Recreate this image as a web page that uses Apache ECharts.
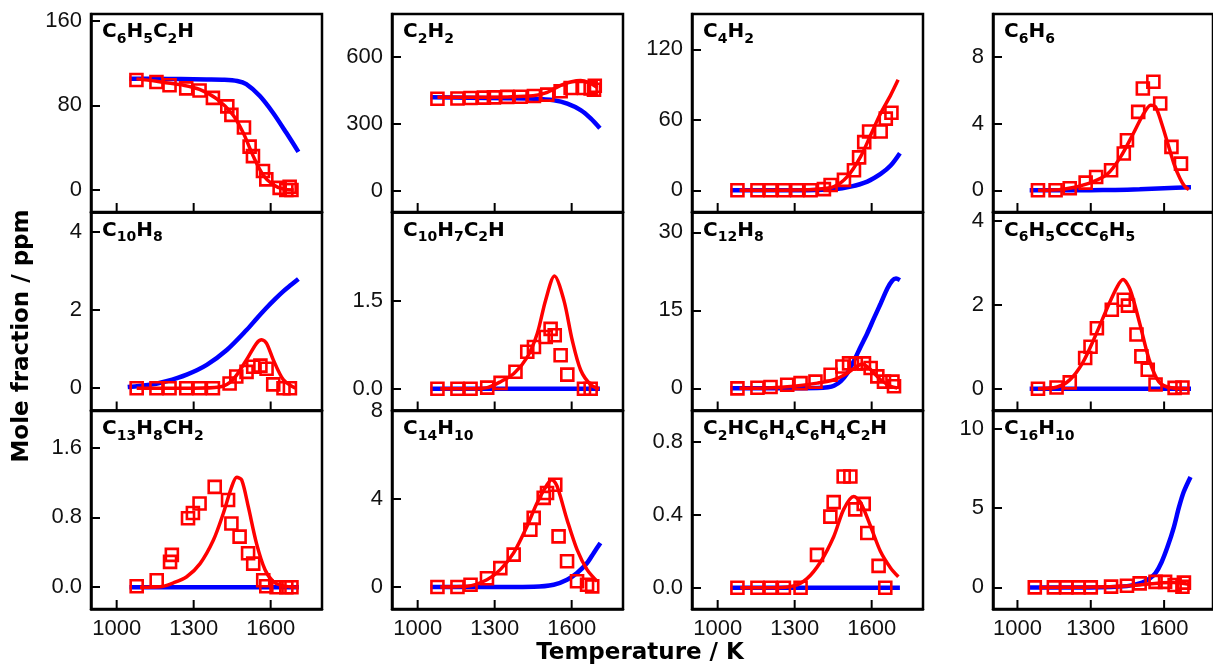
<!DOCTYPE html>
<html><head><meta charset="utf-8">
<script src="https://cdn.jsdelivr.net/npm/echarts@6/dist/echarts.min.js"></script>
<style>html,body{margin:0;padding:0;background:#fff}#c{width:1213px;height:667px}</style>
</head><body><div id="c"></div>
<script>
// ---------- data ----------
const panelNames = ['C6H5C2H','C2H2','C4H2','C6H6','C10H8','C10H7C2H','C12H8','C6H5CCC6H5','C13H8CH2','C14H10','C2HC6H4C6H4C2H','C16H10'];
const xTicks = [1000, 1300, 1600];
const xTickLabels = ['1000', '1300', '1600'];
const yTicks = [[0,80,160],[0,300,600],[0,60,120],[0,4,8],[0,2,4],[0,1.5],[0,15,30],[0,2,4],[0,0.8,1.6],[0,4,8],[0,0.4,0.8],[0,5,10]];
const yTickLabels = [['0','80','160'],['0','300','600'],['0','60','120'],['0','4','8'],['0','2','4'],['0.0','1.5'],['0','15','30'],['0','2','4'],['0.0','0.8','1.6'],['0','4','8'],['0.0','0.4','0.8'],['0','5','10']];
const yMin = [-20.8, -95, -18.5, -1.3, -0.57, -0.37, -4.26, -0.52, -0.25, -1, -0.117, -1.36];
const yMax = [166.3, 791, 150, 10.56, 4.5, 3.0, 33.8, 4.2, 2.02, 8, 0.97, 11.1];

// C6H5C2H
const exp_C6H5C2H = [[1077,104],[1155,102],[1206,99],[1271,96],[1323,94],[1375,87],[1431,79],[1447,71],[1496,59],[1518,41],[1531,32],[1570,18],[1583,10],[1635,2],[1661,0],[1674,3],[1681,0]];
const fit_C6H5C2H = [[1077,105],[1150,103],[1200,101],[1260,99],[1323,95],[1390,86],[1453,71],[1493,54],[1532,32],[1571,14],[1610,5],[1648,1],[1690,0]];
const model_C6H5C2H = [[1050,105],[1150,105],[1250,104.8],[1350,104.5],[1420,104.2],[1470,103],[1505,100],[1557,89],[1609,73],[1661,54],[1708,36]];
// C2H2
const exp_C2H2 = [[1077,412],[1155,413],[1206,415],[1258,417],[1297,418],[1349,420],[1401,421],[1453,424],[1505,430],[1557,445],[1596,460],[1648,460],[1674,458],[1687,452],[1690,470]];
const fit_C2H2 = [[1077,418],[1200,418],[1350,420],[1450,425],[1505,440],[1557,472],[1600,488],[1635,493],[1665,485],[1700,462]];
const model_C2H2 = [[1050,418],[1200,416],[1350,414],[1453,412],[1531,405],[1583,390],[1635,361],[1674,324],[1710,280]];
// C4H2
const exp_C4H2 = [[1077,0],[1155,0],[1206,0],[1258,0],[1310,0],[1362,0],[1414,1],[1440,4.5],[1492,8.8],[1531,17],[1551,28],[1571,41],[1590,50],[1635,50],[1655,61],[1677,66]];
const fit_C4H2 = [[1085,0],[1200,0],[1300,0.2],[1388,0.9],[1453,3.1],[1505,11.6],[1557,28.7],[1596,47],[1635,65.5],[1674,81],[1703,94]];
const model_C4H2 = [[1050,0],[1200,0],[1350,0.1],[1453,0.9],[1518,3.1],[1583,7.4],[1635,13.9],[1674,21],[1710,31.5]];
// C6H6
const exp_C6H6 = [[1084,0],[1156,0],[1214,0.12],[1279,0.46],[1322,0.8],[1383,1.2],[1435,2.2],[1448,3.0],[1494,4.7],[1513,6.1],[1556,6.5],[1584,5.2],[1630,2.6],[1669,1.6]];
const fit_C6H6 = [[1084,0],[1188,0.06],[1292,0.42],[1370,1.0],[1422,2.0],[1474,3.4],[1513,4.5],[1545,5.1],[1565,5.0],[1590,4.0],[1615,2.8],[1640,1.6],[1665,0.7],[1685,0.22],[1701,0.05]];
const model_C6H6 = [[1050,0],[1300,0.01],[1400,0.02],[1500,0.06],[1600,0.12],[1710,0.18]];
// C10H8
const exp_C10H8 = [[1078,0],[1155,0],[1206,0],[1271,0],[1323,0],[1375,0],[1440,0.12],[1466,0.3],[1506,0.42],[1532,0.55],[1560,0.58],[1584,0.5],[1610,0.1],[1650,0],[1675,0]];
const fit_C10H8 = [[1078,0],[1300,0],[1400,0.03],[1453,0.22],[1506,0.73],[1545,1.15],[1565,1.24],[1584,1.15],[1610,0.73],[1649,0.22],[1688,0.03],[1700,0]];
const model_C10H8 = [[1043,0.03],[1129,0.09],[1194,0.18],[1273,0.35],[1351,0.6],[1429,0.98],[1506,1.49],[1545,1.78],[1584,2.06],[1620,2.3],[1649,2.48],[1680,2.65],[1708,2.8]];
// C10H7C2H
const exp_C10H7C2H = [[1077,0],[1155,0],[1206,0],[1271,0.02],[1323,0.1],[1381,0.29],[1427,0.63],[1453,0.71],[1499,0.88],[1518,1.02],[1534,0.91],[1557,0.57],[1583,0.24],[1648,0],[1674,0]];
const fit_C10H7C2H = [[1088,0],[1200,0],[1271,0.02],[1323,0.12],[1375,0.26],[1427,0.54],[1466,0.94],[1498,1.5],[1533,1.92],[1570,1.5],[1602,0.83],[1635,0.32],[1674,0.07],[1707,0]];
const model_C10H7C2H = [[1050,0],[1300,0],[1500,0],[1710,0]];
// C12H8
const exp_C12H8 = [[1077,0],[1155,0.1],[1206,0.25],[1271,0.7],[1323,1.0],[1381,1.3],[1440,2.6],[1486,4.2],[1512,4.8],[1538,4.8],[1570,4.8],[1596,3.9],[1622,2.3],[1648,1.3],[1681,1.3],[1687,0.4]];
const fit_C12H8 = [[1085,0],[1194,0.06],[1297,0.4],[1388,1.0],[1453,1.65],[1505,2.9],[1544,4.3],[1564,4.7],[1596,3.6],[1635,1.65],[1674,0.4],[1700,0.06]];
const model_C12H8 = [[1050,0],[1250,0],[1388,0.05],[1430,0.2],[1453,0.5],[1480,1.4],[1505,2.9],[1530,5.2],[1557,8],[1583,10.6],[1609,13.5],[1635,16.3],[1661,19.2],[1680,20.7],[1695,21.1],[1710,20.8]];
// C6H5CCC6H5
const exp_C6H5CCC6H5 = [[1084,0],[1160,0.03],[1214,0.15],[1277,0.73],[1299,1.0],[1325,1.44],[1386,1.88],[1435,2.12],[1452,1.98],[1487,1.29],[1507,0.77],[1533,0.45],[1565,0.1],[1643,0.02],[1675,0.03]];
const fit_C6H5CCC6H5 = [[1084,0],[1162,0.04],[1214,0.21],[1266,0.61],[1318,1.25],[1370,1.96],[1409,2.44],[1432,2.6],[1461,2.36],[1500,1.56],[1539,0.69],[1578,0.17],[1630,0.02],[1700,0]];
const model_C6H5CCC6H5 = [[1050,0],[1300,0],[1500,0],[1710,0]];
// C13H8CH2
const exp_C13H8CH2 = [[1078,0.01],[1156,0.08],[1208,0.29],[1215,0.37],[1278,0.79],[1297,0.85],[1323,0.96],[1382,1.15],[1434,1.0],[1447,0.73],[1479,0.58],[1512,0.39],[1532,0.27],[1571,0.08],[1583,0.01],[1623,0],[1661,0],[1681,0]];
const fit_C13H8CH2 = [[1091,0],[1169,0.005],[1221,0.05],[1273,0.12],[1325,0.27],[1377,0.54],[1416,0.85],[1448,1.15],[1468,1.26],[1487,1.23],[1513,0.92],[1545,0.5],[1578,0.2],[1610,0.065],[1649,0.015],[1700,0]];
const model_C13H8CH2 = [[1050,0],[1300,0],[1500,0],[1710,0]];
// C14H10
const exp_C14H10 = [[1077,0],[1155,0],[1206,0.1],[1270,0.4],[1322,0.86],[1374,1.47],[1439,2.6],[1452,3.14],[1491,4.05],[1504,4.27],[1536,4.65],[1549,2.3],[1582,1.17],[1621,0.26],[1660,0.1],[1680,0.03]];
const fit_C14H10 = [[1088,0],[1192,0.03],[1270,0.33],[1322,0.79],[1374,1.55],[1426,2.76],[1465,3.82],[1504,4.65],[1523,4.88],[1543,4.58],[1582,3.06],[1621,1.7],[1660,0.79],[1699,0.26]];
const model_C14H10 = [[1050,0],[1300,0],[1452,0.01],[1530,0.1],[1582,0.33],[1621,0.64],[1660,1.09],[1686,1.55],[1712,2.0]];
// C2HC6H4C6H4C2H
const exp_C2HC6H4C6H4C2H = [[1077,0],[1155,0],[1206,0],[1258,0],[1323,0],[1387,0.18],[1439,0.39],[1452,0.47],[1491,0.61],[1517,0.61],[1536,0.43],[1569,0.46],[1583,0.3],[1627,0.12],[1653,0]];
const fit_C2HC6H4C6H4C2H = [[1088,0],[1218,0],[1296,0.01],[1348,0.05],[1400,0.14],[1452,0.28],[1491,0.43],[1530,0.5],[1556,0.47],[1595,0.34],[1634,0.2],[1673,0.11],[1704,0.06]];
const model_C2HC6H4C6H4C2H = [[1050,0],[1300,0],[1500,0],[1710,0]];
// C16H10
const exp_C16H10 = [[1071,0],[1149,0],[1200,0],[1250,0],[1300,0],[1383,0.05],[1448,0.1],[1500,0.25],[1565,0.35],[1604,0.35],[1643,0.15],[1675,0.04],[1681,0.3]];
const fit_C16H10 = [[1088,0],[1250,0.01],[1400,0.05],[1500,0.15],[1580,0.28],[1640,0.3],[1700,0.2]];
const model_C16H10 = [[1050,0],[1300,0],[1448,0.08],[1510,0.3],[1540,0.55],[1565,0.9],[1590,1.6],[1615,2.6],[1640,3.8],[1660,5.0],[1680,6.0],[1708,6.95]];

const expData = [exp_C6H5C2H, exp_C2H2, exp_C4H2, exp_C6H6, exp_C10H8, exp_C10H7C2H, exp_C12H8, exp_C6H5CCC6H5, exp_C13H8CH2, exp_C14H10, exp_C2HC6H4C6H4C2H, exp_C16H10];
const fitData = [fit_C6H5C2H, fit_C2H2, fit_C4H2, fit_C6H6, fit_C10H8, fit_C10H7C2H, fit_C12H8, fit_C6H5CCC6H5, fit_C13H8CH2, fit_C14H10, fit_C2HC6H4C6H4C2H, fit_C16H10];
const modelData = [model_C6H5C2H, model_C2H2, model_C4H2, model_C6H6, model_C10H8, model_C10H7C2H, model_C12H8, model_C6H5CCC6H5, model_C13H8CH2, model_C14H10, model_C2HC6H4C6H4C2H, model_C16H10];

// ---------- layout ----------
const colLeft = [91, 392, 692, 993];
const colW = 231;
const rowTop = [14, 212.5, 411];
const rowH = 198;
const RED = '#ff0000', BLUE = '#0000ff';
const tickFont = '"Liberation Sans", Arial, sans-serif';
const boldFont = 'DejaVu Sans';
const TICK_LEN = 9;

const grids = [], xAxes = [], yAxes = [], series = [], titles = [];
for (let i = 0; i < 12; i++) {
  const r = Math.floor(i / 4), c = i % 4;
  grids.push({left: colLeft[c], top: rowTop[r], width: colW, height: rowH, show: true,
    borderColor: '#000', borderWidth: 2.5, backgroundColor: 'rgba(0,0,0,0)', containLabel: false});
  xAxes.push({type: 'value', gridIndex: i, min: 900, max: 1800, position: 'bottom',
    axisLine: {show: true, onZero: false, lineStyle: {color: '#000', width: 2.5}},
    axisTick: {show: false},
    axisLabel: {show: r === 2, customValues: xTicks, margin: 9, fontSize: 22, fontFamily: tickFont, color: '#111',
      formatter: (v) => { const k = xTicks.indexOf(v); return k >= 0 ? xTickLabels[k] : ''; }},
    splitLine: {show: false}});
  yAxes.push({type: 'value', gridIndex: i, min: yMin[i], max: yMax[i], position: 'left',
    axisLine: {show: true, onZero: false, lineStyle: {color: '#000', width: 2.5}},
    axisTick: {show: true, inside: true, length: TICK_LEN, lineStyle: {color: '#000', width: 2}, customValues: yTicks[i]},
    axisLabel: {show: true, customValues: yTicks[i], margin: 9, fontSize: 22, fontFamily: tickFont, color: '#111',
      formatter: (v) => { const k = yTicks[i].findIndex(t => Math.abs(t - v) < 1e-9); return k >= 0 ? yTickLabels[i][k] : ''; }},
    splitLine: {show: false}});
  series.push({type: 'line', xAxisIndex: i, yAxisIndex: i, data: modelData[i], smooth: 0.3, showSymbol: false,
    lineStyle: {color: BLUE, width: 4.5}, z: 2, silent: true});
  series.push({type: 'line', xAxisIndex: i, yAxisIndex: i, data: fitData[i], smooth: 0.3, showSymbol: false,
    lineStyle: {color: RED, width: 3.5}, z: 3, silent: true});
  series.push({type: 'scatter', xAxisIndex: i, yAxisIndex: i, data: expData[i], symbol: 'rect', symbolSize: 12,
    itemStyle: {color: 'rgba(0,0,0,0)', borderColor: RED, borderWidth: 2.6, opacity: 1}, z: 4, silent: true});
  const txt = panelNames[i].replace(/([A-Za-z]+)/g, '{n|$1}').replace(/(\d+)/g, '{s|$1}');
  titles.push({text: txt, left: colLeft[c] + 11, top: rowTop[r] + 6, padding: 0,
    textStyle: {rich: {
      n: {fontFamily: boldFont, fontWeight: 'bold', fontSize: 20, lineHeight: 24, color: '#000', verticalAlign: 'middle'},
      s: {fontFamily: boldFont, fontWeight: 'bold', fontSize: 14, lineHeight: 14, padding: [14, 0, 0, 0], color: '#000', verticalAlign: 'middle'}
    }}});
}

const axisTitles = [
  {type: 'text', x: 640, y: 653, style: {text: 'Temperature / K', font: 'bold 23px "DejaVu Sans"', fill: '#000', align: 'center', verticalAlign: 'middle'}},
  {type: 'text', x: 22, y: 336, rotation: Math.PI / 2, style: {text: 'Mole fraction / ppm', font: 'bold 23px "DejaVu Sans"', fill: '#000', align: 'center', verticalAlign: 'middle'}}
];

const chart = echarts.init(document.getElementById('c'), null, {renderer: 'canvas'});
chart.setOption({
  animation: false,
  backgroundColor: '#fff',
  title: titles,
  grid: grids, xAxis: xAxes, yAxis: yAxes, series: series,
  graphic: axisTitles
});

// inward x-axis ticks, placed through each panel's own scales
const tickMarks = [];
for (let i = 0; i < 12; i++) {
  xTicks.forEach(t => {
    const p = chart.convertToPixel({xAxisIndex: i, yAxisIndex: i}, [t, yMin[i]]);
    tickMarks.push({type: 'line', z: 100, silent: true,
      shape: {x1: p[0], y1: p[1], x2: p[0], y2: p[1] - TICK_LEN},
      style: {stroke: '#000', lineWidth: 2}});
  });
}
chart.setOption({graphic: axisTitles.concat(tickMarks)});
</script></body></html>
